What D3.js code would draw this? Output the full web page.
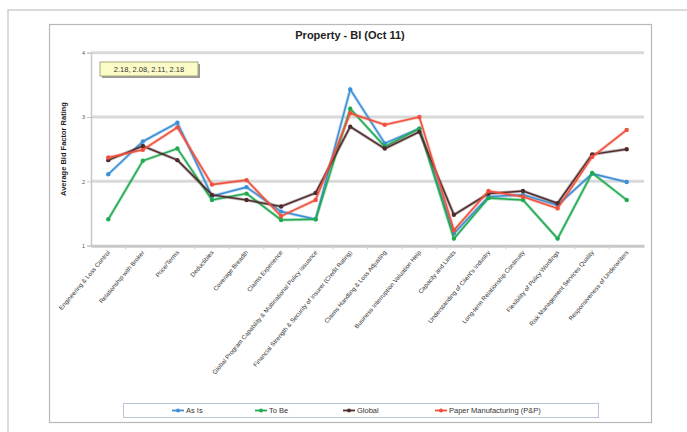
<!DOCTYPE html>
<html>
<head>
<meta charset="utf-8">
<script src="https://cdn.jsdelivr.net/npm/d3@7"></script>
<style>
  body { margin: 0; background: #fff; }
  text { font-family: "Liberation Sans", Arial, sans-serif; }
</style>
</head>
<body>
<svg></svg>
<script>
var width = 687;
var height = 432;

// categories (bid factors)
var categories = [
    "Engineering & Loss Control",
    "Relationship with Broker",
    "Price/Terms",
    "Deductibles",
    "Coverage Breadth",
    "Claims Experience",
    "Global Program Capability & Multinational Policy Issuance",
    "Financial Strength & Security of Insurer (Credit Rating)",
    "Claims Handling & Loss Adjusting",
    "Business Interruption Valuation Help",
    "Capacity and Limits",
    "Understanding of Client's Industry",
    "Long-term Relationship Continuity",
    "Flexibility of Policy Wordings",
    "Risk Management Services Quality",
    "Responsiveness of Underwriters"
];

var asIs   = [2.11, 2.62, 2.91, 1.77, 1.91, 1.53, 1.41, 3.43, 2.59, 2.82, 1.19, 1.76, 1.79, 1.63, 2.12, 1.99];
var toBe   = [1.41, 2.32, 2.51, 1.71, 1.81, 1.40, 1.41, 3.13, 2.54, 2.82, 1.11, 1.74, 1.71, 1.11, 2.13, 1.71];
var global = [2.33, 2.55, 2.33, 1.79, 1.71, 1.61, 1.82, 2.85, 2.51, 2.77, 1.48, 1.81, 1.85, 1.66, 2.42, 2.50];
var paper  = [2.37, 2.49, 2.84, 1.95, 2.02, 1.46, 1.71, 3.06, 2.88, 3.00, 1.24, 1.85, 1.76, 1.58, 2.38, 2.80];

var seriesNames = ["As Is", "To Be", "Global", "Paper Manufacturing (P&P)"];
var seriesColors = ["#3d8fd6", "#22aa52", "#4e2c2c", "#f0503c"];
var yTicks = [1, 2, 3, 4];
var noteText = "2.18, 2.08, 2.11, 2.18";

var series = [asIs, toBe, global, paper];

var svg = d3.select('svg')
    .attr('width', width)
    .attr('height', height);

// page frame
svg.append('rect')
    .attr('x', 8).attr('y', 10)
    .attr('width', 700).attr('height', 440)
    .style('fill', '#fff')
    .style('stroke', '#cfcfcf')
    .style('stroke-width', 1.5);

// chart frame
svg.append('rect')
    .attr('x', 49.5).attr('y', 24.5)
    .attr('width', 602).attr('height', 398)
    .style('fill', '#fff')
    .style('stroke', '#b8b8b8')
    .style('stroke-width', 1.2);

svg.append('text')
    .attr('x', 350).attr('y', 39)
    .attr('text-anchor', 'middle')
    .attr('font-size', 11)
    .attr('font-weight', 'bold')
    .style('fill', '#222')
    .text("Property - BI (Oct 11)");

var x = d3.scaleBand()
    .domain(categories)
    .range([91, 644]);

var y = d3.scaleLinear()
    .domain([1, 4])
    .range([245.7, 52.7]);

// gridlines
svg.append('g')
    .selectAll('line')
    .data(yTicks.slice(1))
    .enter()
    .append('line')
    .attr('x1', 91).attr('x2', 644)
    .attr('y1', function(d){ return y(d); })
    .attr('y2', function(d){ return y(d); })
    .style('stroke', '#d9d9d9')
    .style('stroke-width', 3);

// y axis
var yAxis = svg.append('g')
    .attr('transform', 'translate(91,0)')
    .call(d3.axisLeft(y).tickValues(yTicks).tickSize(4).tickFormat(d3.format('d')));
yAxis.select('.domain').style('stroke', '#c8c8c8').style('stroke-width', 1.5);
yAxis.selectAll('.tick line').style('stroke', '#c8c8c8');
yAxis.selectAll('.tick text').attr('font-size', 5.5).style('fill', '#555').attr('x', -6);

// x axis
var xAxis = svg.append('g')
    .attr('transform', 'translate(0,' + y(1) + ')')
    .call(d3.axisBottom(x).tickSize(0).tickFormat(''));
xAxis.select('.domain').style('stroke', '#c8c8c8').style('stroke-width', 3);

svg.append('g')
    .selectAll('line')
    .data(categories.slice(1))
    .enter()
    .append('line')
    .attr('x1', function(d){ return x(d); })
    .attr('x2', function(d){ return x(d); })
    .attr('y1', y(1))
    .attr('y2', y(1) + 3.5)
    .style('stroke', '#c8c8c8')
    .style('stroke-width', 1);

svg.append('g')
    .selectAll('text')
    .data(categories)
    .enter()
    .append('text')
    .attr('transform', function(d){
        return 'translate(' + (x(d) + x.bandwidth() / 2 + 2) + ',' + (y(1) + 7) + ') rotate(-50)';
    })
    .attr('text-anchor', 'end')
    .attr('font-size', 6.2)
    .style('fill', '#333')
    .text(function(d){ return d; });

svg.append('text')
    .attr('transform', 'translate(66,149) rotate(-90)')
    .attr('text-anchor', 'middle')
    .attr('font-size', 7.5)
    .attr('font-weight', 'bold')
    .style('fill', '#222')
    .text("Average Bid Factor Rating");

// note box
svg.append('rect')
    .attr('x', 102).attr('y', 64)
    .attr('width', 98).attr('height', 14)
    .style('fill', '#999');
svg.append('rect')
    .attr('x', 100).attr('y', 62)
    .attr('width', 98).attr('height', 14)
    .style('fill', '#fbfbc8')
    .style('stroke', '#a8a878')
    .style('stroke-width', 1);
svg.append('text')
    .attr('x', 149).attr('y', 71.8)
    .attr('text-anchor', 'middle')
    .attr('font-size', 7.5)
    .style('fill', '#333')
    .text(noteText);

var line = d3.line()
    .x(function(d, i){ return x(categories[i]) + x.bandwidth() / 2; })
    .y(function(d){ return y(d); });

for (var s = 0; s < series.length; s++) {
    svg.append('path')
        .datum(series[s])
        .attr('d', line)
        .style('fill', 'none')
        .style('stroke', seriesColors[s])
        .style('stroke-opacity', 0.35)
        .style('stroke-width', 3.2);
    svg.append('path')
        .datum(series[s])
        .attr('d', line)
        .style('fill', 'none')
        .style('stroke', seriesColors[s])
        .style('stroke-width', 1.5);
    svg.append('g')
        .selectAll('circle')
        .data(series[s])
        .enter()
        .append('circle')
        .attr('cx', function(d, i){ return x(categories[i]) + x.bandwidth() / 2; })
        .attr('cy', function(d){ return y(d); })
        .attr('r', 2.2)
        .style('fill', seriesColors[s]);
}

// legend
svg.append('rect')
    .attr('x', 123.5).attr('y', 403.5)
    .attr('width', 475).attr('height', 14)
    .style('fill', '#fff')
    .style('stroke', '#b8c4d8')
    .style('stroke-width', 1);

var legendX = [172, 255, 343, 435];
var legend = svg.append('g')
    .selectAll('g')
    .data(seriesNames)
    .enter()
    .append('g')
    .attr('transform', function(d, i){ return 'translate(' + legendX[i] + ',410.5)'; });
legend.append('line')
    .attr('x1', 0).attr('x2', 12)
    .style('stroke', function(d, i){ return seriesColors[i]; })
    .style('stroke-width', 1.8);
legend.append('circle')
    .attr('cx', 6).attr('r', 2)
    .style('fill', function(d, i){ return seriesColors[i]; });
legend.append('text')
    .attr('x', 14).attr('y', 2.6)
    .attr('font-size', 7.5)
    .style('fill', '#333')
    .text(function(d){ return d; });
</script>
</body>
</html>
